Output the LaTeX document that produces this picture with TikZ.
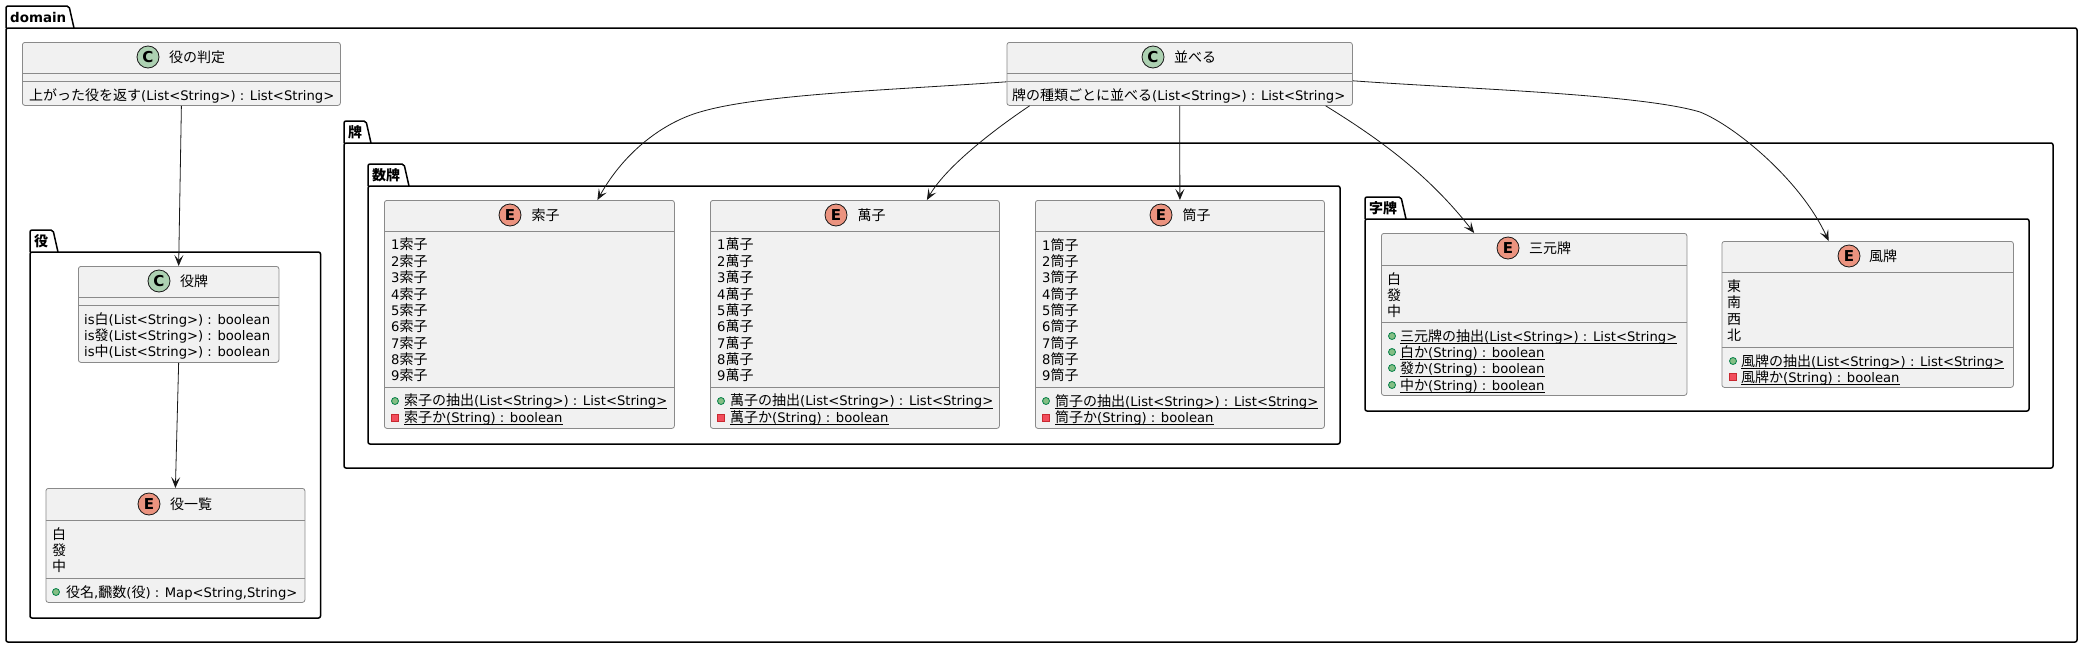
\documentclass[tikz,border=0pt]{standalone}
\usepackage{fontspec}
\setmainfont{Noto Sans CJK JP}
\newfontfamily\lat[Scale=0.94]{DejaVu Sans}
\usetikzlibrary{arrows.meta,calc}

\definecolor{boxfill}{HTML}{F1F1F1}
\definecolor{boxline}{HTML}{8A8A8A}
\definecolor{classcirc}{HTML}{ADD1B2}
\definecolor{enumcirc}{HTML}{EB937F}
\definecolor{pubfill}{HTML}{84BE84}
\definecolor{publine}{HTML}{038048}
\definecolor{privfill}{HTML}{F24D5C}
\definecolor{privline}{HTML}{C82930}
\definecolor{linkcol}{HTML}{181818}

\tikzset{
  x=1pt,y=-1pt,
  pkgline/.style={draw=black,line width=1.5pt,rounded corners=2pt},
  pkglabel/.style={font=\fontsize{14}{14}\selectfont\bfseries,anchor=base west,inner sep=0pt},
  umlbox/.style={draw=boxline,fill=boxfill,line width=0.8pt,rounded corners=2.5pt,inner sep=0pt,anchor=north west},
  sepline/.style={draw=boxline,line width=0.8pt},
  boxtitle/.style={font=\fontsize{14}{14}\selectfont,anchor=base west,inner sep=0pt},
  boxtext/.style={font=\fontsize{14}{16.35}\selectfont,anchor=north west,inner sep=0pt,align=left,execute at begin node=\strut},
  badge/.style={circle,draw=linkcol,line width=0.8pt,minimum size=22pt,inner sep=0pt,font=\fontsize{16}{16}\selectfont\bfseries\lat},
  pubdot/.style={circle,draw=publine,fill=pubfill,line width=0.8pt,minimum size=7pt,inner sep=0pt},
  privdot/.style={rectangle,draw=privline,fill=privfill,line width=0.8pt,minimum size=7pt,inner sep=0pt},
  link/.style={draw=linkcol,line width=0.8pt,-{Stealth[length=11pt,width=9pt,inset=5pt]}}
}

\newcommand{\listsig}{{\lat (List<String>) : List<String>}}
\newcommand{\boolsig}{{\lat (String) : boolean}}
\newcommand{\isbool}{{\lat (List<String>) : boolean}}
\newcommand{\ulined}[1]{\setbox0\hbox{#1}\rlap{\rule[-2.8pt]{\wd0}{0.9pt}}\box0}

% x1 y1 x2 y2, ytab, xtab, label
\newcommand{\pkgbox}[8]{
  \path [pkgline] (#2,#6) -- (#2,#3) -- (#7-5,#3) -- (#7,#6);
  \path [pkgline] (#2,#6) -- (#4,#6) -- (#4,#5) -- (#2,#5) -- cycle;
  \node [pkglabel] (#1) at (#2+4,#6-6) {#8};
}
% name x1 y1 x2 y2 header
\newcommand{\umlnode}[6]{
  \node [umlbox,minimum width=#4pt-#2pt,minimum height=#5pt-#3pt] (#1) at (#2,#3) {};
  \path [sepline] (#2,#6) -- (#4,#6);
}

\begin{document}
\begin{tikzpicture}

\useasboundingbox (0,0) rectangle (2079,648);

% packages
\pkgbox{domainpkg}{6}{6}{2077}{642}{28}{74}{\fontsize{14.3}{14}\selectfont\lat domain}
\pkgbox{yakupkg}{30}{230}{320.5}{618}{252}{58}{役}
\pkgbox{haipkg}{344}{121}{2053}{468}{143}{371}{牌}
\pkgbox{suupkg}{368}{164}{1340}{444}{186}{409}{数牌}
\pkgbox{jipkg}{1365}{197}{2029}{411}{219}{1406}{字牌}

% 役の判定
\umlnode{hantei}{22}{42}{340}{105}{73}
\path [sepline] (22,81) -- (340,81);
\node [badge,fill=classcirc] (hanteiC) at (148,57) {C};
\node [boxtitle] (hanteiT) at (169,62) {役の判定};
\node [boxtext] (hanteiM) at (29,88) {上がった役を返す\listsig};

% 並べる
\umlnode{naraberu}{1006.5}{42}{1352}{105}{73}
\path [sepline] (1006.5,81) -- (1352,81);
\node [badge,fill=classcirc] (naraberuC) at (1153,57) {C};
\node [boxtitle] (naraberuT) at (1174,62) {並べる};
\node [boxtext] (naraberuM) at (1012,88) {牌の種類ごとに並べる\listsig};

% 役牌
\umlnode{yakuhai}{78}{266}{278.5}{362}{297}
\path [sepline] (78,305) -- (278.5,305);
\node [badge,fill=classcirc] (yakuhaiC) at (159,281) {C};
\node [boxtitle] (yakuhaiT) at (180,286) {役牌};
\node [boxtext] (yakuhaiM) at (84,312) {{\lat is}白\isbool\\{\lat is}發\isbool\\{\lat is}中\isbool};

% 役一覧
\umlnode{yakulist}{45.5}{488}{304.5}{602}{520}
\path [sepline] (45.5,578) -- (304.5,578);
\node [badge,fill=enumcirc] (yakulistE) at (149,504) {E};
\node [boxtitle] (yakulistT) at (170,509) {役一覧};
\node [boxtext] (yakulistF) at (52,527) {白\\發\\中};
\node [pubdot] (yakulistP) at (56,592) {};
\node [boxtext] (yakulistM) at (66,585) {役名{\lat ,}飜数{\lat (}役{\lat ) : Map<String,String>}};

% 数牌の三つ
\foreach \nm/\lbl/\xa/\xb in {souzu/索子/384/674,manzu/萬子/710/999,pinzu/筒子/1035/1324} {
  \umlnode{\nm}{\xa}{200}{\xb}{428}{231}
  \path [sepline] (\xa,387) -- (\xb,387);
  \node [badge,fill=enumcirc] (\nm E) at (\xa+126,215) {E};
  \node [boxtitle] (\nm T) at (\xa+147.5,220) {\lbl};
  \node [boxtext] (\nm F) at (\xa+7,238) {{\lat 1}\lbl\\{\lat 2}\lbl\\{\lat 3}\lbl\\{\lat 4}\lbl\\{\lat 5}\lbl\\{\lat 6}\lbl\\{\lat 7}\lbl\\{\lat 8}\lbl\\{\lat 9}\lbl};
  \node [pubdot] (\nm P) at (\xa+11,401) {};
  \node [privdot] (\nm Q) at (\xa+11,418) {};
  \node [boxtext] (\nm M) at (\xa+20,394) {\ulined{\lbl の抽出\listsig}\\\ulined{\lbl か\boolsig}};
}

% 三元牌
\umlnode{sangen}{1381}{233}{1686.5}{395}{265}
\path [sepline] (1381,322) -- (1686.5,322);
\node [badge,fill=enumcirc] (sangenE) at (1508,248) {E};
\node [boxtitle] (sangenT) at (1529,253) {三元牌};
\node [boxtext] (sangenF) at (1387,272) {白\\發\\中};
\node [boxtext] (sangenM) at (1400,329) {\ulined{三元牌の抽出\listsig}\\\ulined{白か\boolsig}\\\ulined{發か\boolsig}\\\ulined{中か\boolsig}};
\foreach \i/\yy in {1/336,2/352,3/368,4/385} {
  \node [pubdot] (sangenP\i) at (1392,\yy) {};
}

% 風牌
\umlnode{kaze}{1721.5}{241}{2013}{387}{272}
\path [sepline] (1721.5,347) -- (2013,347);
\node [badge,fill=enumcirc] (kazeE) at (1849,256) {E};
\node [boxtitle] (kazeT) at (1869,261) {風牌};
\node [boxtext] (kazeF) at (1727,279.5) {東\\南\\西\\北};
\node [pubdot] (kazeP) at (1733,361) {};
\node [privdot] (kazeQ) at (1733,377) {};
\node [boxtext] (kazeM) at (1741,354) {\ulined{風牌の抽出\listsig}\\\ulined{風牌か\boolsig}};

% links
\path [link] (hantei.south) -- (yakuhai.north);
\path [link] (yakuhai.south) -- (yakulist.north);
\path [link] ([yshift=24pt]naraberu.south west) .. controls +(-110,8) and +(60,-18) .. (700,112) .. controls +(-35,10) and +(28,-50) .. ([xshift=68pt]souzu.north);
\path [link] ([xshift=-150pt]naraberu.south) .. controls +(-30,20) and +(20,-35) .. ([xshift=72pt]manzu.north);
\path [link] (naraberu.south) -- (pinzu.north);
\path [link] ([xshift=146pt]naraberu.south) .. controls +(45,28) and +(-49,-63) .. ([xshift=-60pt]sangen.north);
\path [link] ([yshift=25pt]naraberu.south east) .. controls +(110,8) and +(-60,-18) .. (1700,112) .. controls +(35,14) and +(-28,-61) .. ([xshift=-39pt]kaze.north);

\end{tikzpicture}
\end{document}
